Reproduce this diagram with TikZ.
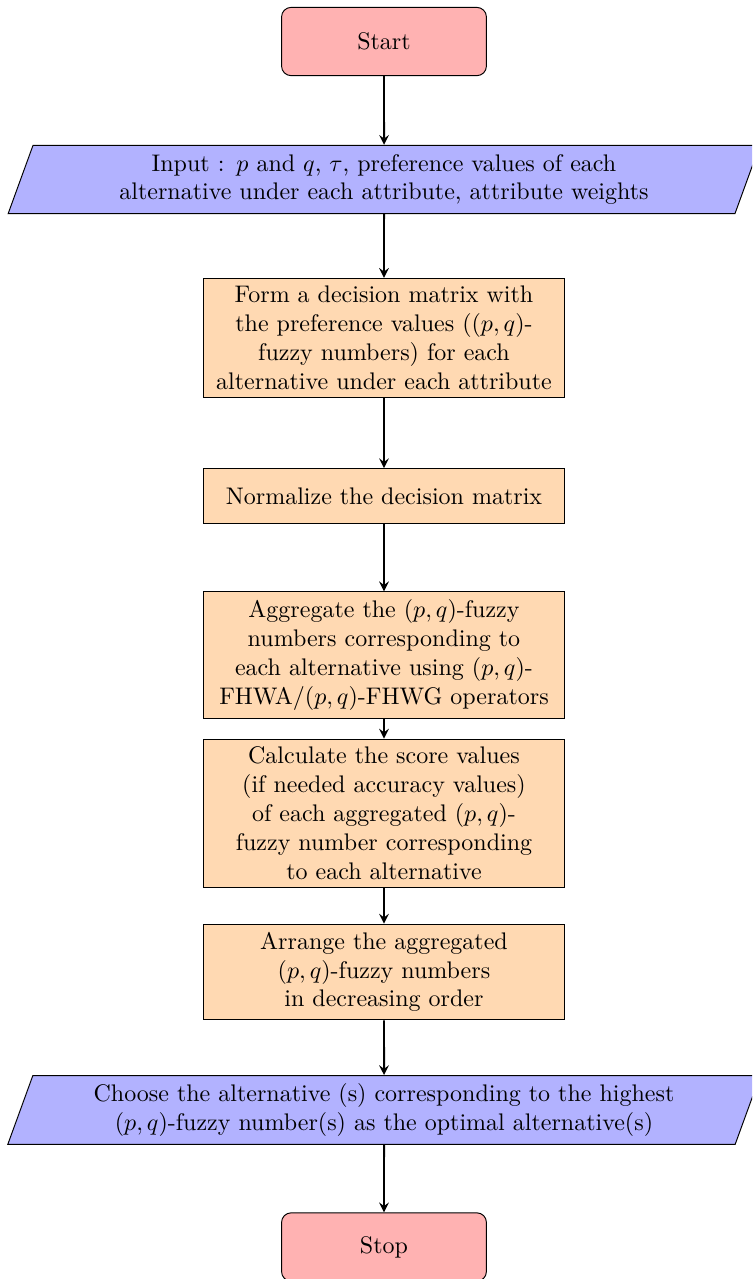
\documentclass[tikz,border=0pt]{standalone}
\usetikzlibrary{shapes.geometric,arrows}
\tikzset{
  startstop/.style={rectangle, rounded corners, minimum width=3cm, minimum height=1cm, text centered, draw=black, fill=red!30},
  inout/.style={trapezium, trapezium left angle=70, trapezium right angle=110, minimum width=3cm, minimum height=1cm, text width=10cm, align=center, draw=black, fill=blue!30},
  procbox/.style={rectangle, minimum width=3cm, minimum height=0.8cm, text width=5.05cm, align=center, draw=black, fill=orange!30},
  flowarrow/.style={thick,->,>=stealth}
}
\begin{document}
\begin{tikzpicture}
%\draw[step=0.5cm,gray,very thin] (-5.5,0) grid (5.5,-18.5);
\path[use as bounding box, clip] (-5.623,0) rectangle (5.389,-18.729);
\node (start) [startstop] at (0,-0.608) {Start};
\node (input) [inout, text width=9.8cm] at (0,-2.628) {Input : $p$ and $q$, $\tau$, preference values of each\\ alternative under each attribute, attribute weights};
\node (form) [procbox] at (0,-4.949) {Form a decision matrix with\\ the preference values ($(p,q)$-\\ fuzzy numbers) for each\\ alternative under each attribute};
\node (norm) [procbox] at (0,-7.263) {Normalize the decision matrix};
\node (aggr) [procbox] at (0,-9.591) {Aggregate the $(p,q)$-fuzzy\\ numbers corresponding to\\ each alternative using $(p,q)$-\\ FHWA/$(p,q)$-FHWG operators};
\node (score) [procbox] at (0,-11.909) {Calculate the score values\\ (if needed accuracy values)\\ of each aggregated $(p,q)$-\\ fuzzy number corresponding\\ to each alternative};
\node (arrange) [procbox] at (0,-14.233) {Arrange the aggregated\\ $(p,q)$-fuzzy numbers\\ in decreasing order};
\node (choose) [inout, text width=10.05cm] at (0,-16.254) {Choose the alternative (s) corresponding to the highest\\ $(p,q)$-fuzzy number(s) as the optimal alternative(s)};
\node (stop) [startstop] at (0,-18.26) {Stop};
\draw [flowarrow] (start) -- (input);
\draw [flowarrow] (input) -- (form);
\draw [flowarrow] (form) -- (norm);
\draw [flowarrow] (norm) -- (aggr);
\draw [flowarrow] (aggr) -- (score);
\draw [flowarrow] (score) -- (arrange);
\draw [flowarrow] (arrange) -- (choose);
\draw [flowarrow] (choose) -- (stop);
\end{tikzpicture}
\end{document}
